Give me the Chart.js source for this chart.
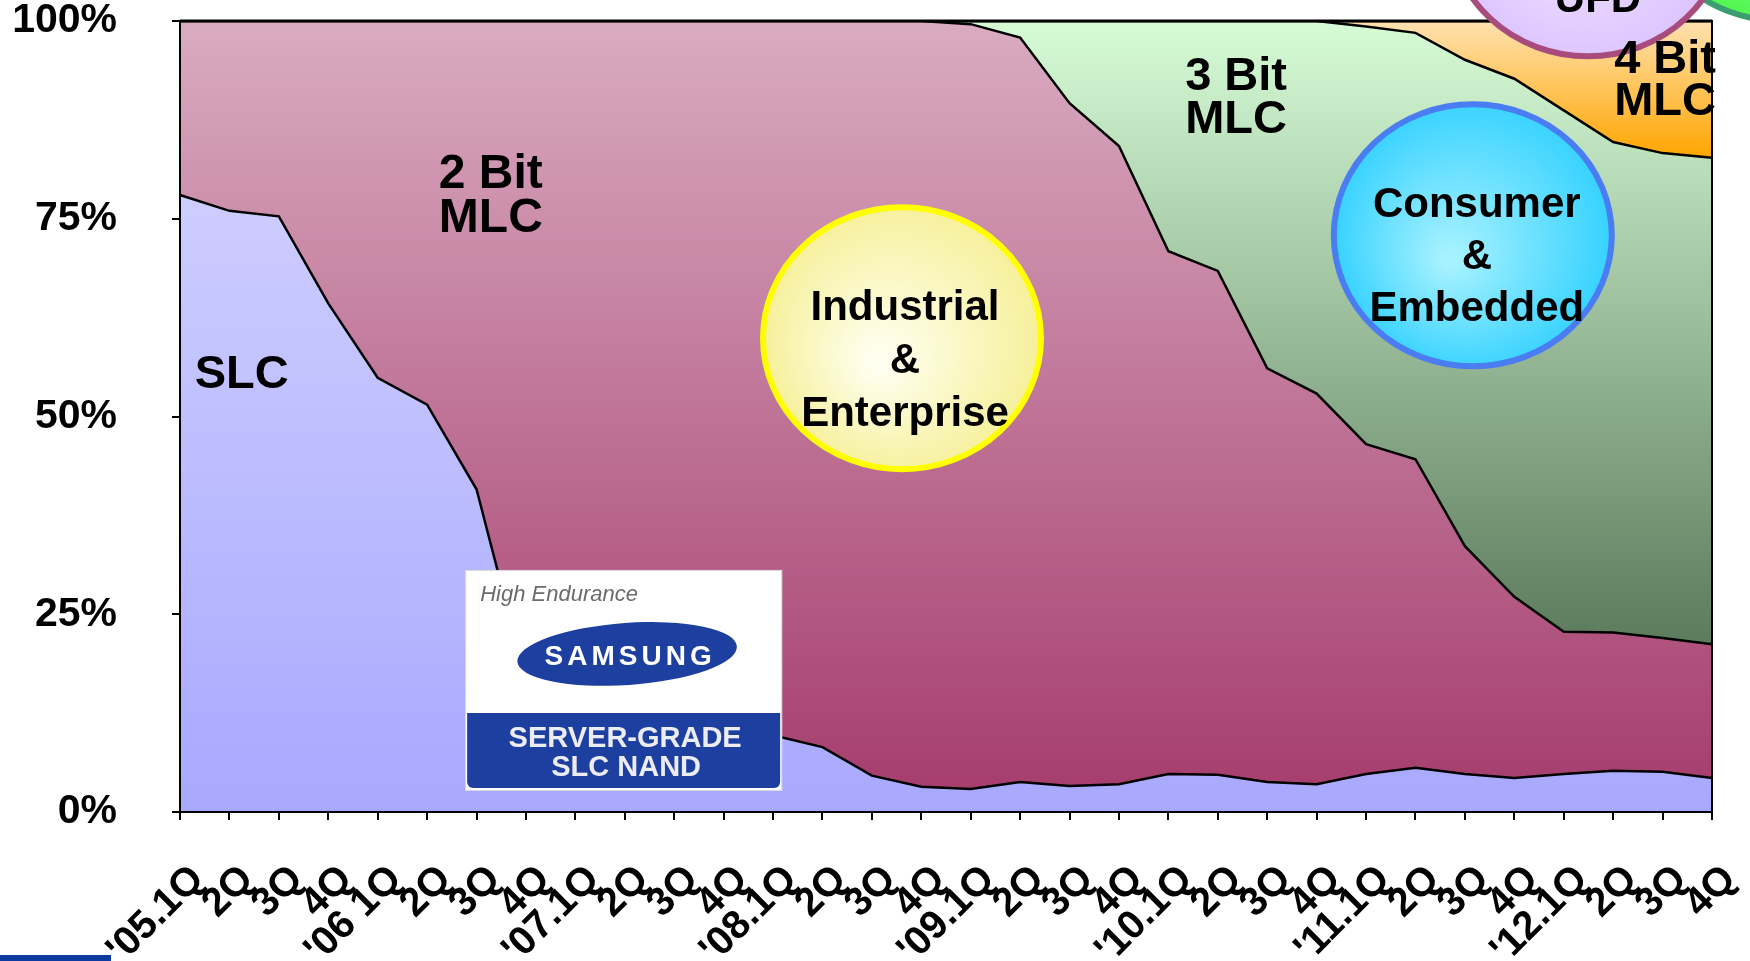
<!DOCTYPE html>
<html>
<head>
<meta charset="utf-8">
<title>NAND technology mix</title>
<script src="https://cdn.jsdelivr.net/npm/chart.js@4.4.0/dist/chart.umd.min.js"></script>
<style>
  html, body { margin: 0; padding: 0; background: #fff; }
  canvas { display: block; }
</style>
</head>
<body>
<canvas id="nandChart" width="1750" height="961"></canvas>
<script>
// categories: quarters '05 .. '12
var quarters = ["'05.1Q", "2Q", "3Q", "4Q", "'06 1Q", "2Q", "3Q", "4Q",
                "'07.1Q", "2Q", "3Q", "4Q", "'08.1Q", "2Q", "3Q", "4Q",
                "'09.1Q", "2Q", "3Q", "4Q", "'10.1Q", "2Q", "3Q", "4Q",
                "'11.1Q", "2Q", "3Q", "4Q", "'12.1Q", "2Q", "3Q", "4Q"];

// share of each cell type, %
var slc  = [78.0, 76.0, 75.3, 64.3, 54.9, 51.5, 40.8, 16.7, 13.0, 11.5, 10.7, 10.2, 9.7, 8.2, 4.6, 3.2,
            2.9, 3.8, 3.3, 3.5, 4.8, 4.7, 3.8, 3.5, 4.8, 5.6, 4.8, 4.3, 4.8, 5.2, 5.1, 4.3];
var mlc2 = [22.0, 24.0, 24.7, 35.7, 45.1, 48.5, 59.2, 83.3, 87.0, 88.5, 89.3, 89.8, 90.3, 91.8, 95.4, 96.8,
            96.7, 94.1, 86.3, 80.7, 66.1, 63.7, 52.3, 49.4, 41.7, 39.0, 28.8, 22.9, 18.0, 17.5, 16.9, 16.9];
var mlc3 = [0, 0, 0, 0, 0, 0, 0, 0, 0, 0, 0, 0, 0, 0, 0, 0,
            0.4, 2.1, 10.4, 15.8, 29.1, 31.6, 43.9, 47.1, 52.8, 53.9, 61.5, 65.5, 65.9, 62.0, 61.3, 61.5];
var mlc4 = [0, 0, 0, 0, 0, 0, 0, 0, 0, 0, 0, 0, 0, 0, 0, 0,
            0, 0, 0, 0, 0, 0, 0, 0, 0.7, 1.5, 4.9, 7.3, 11.3, 15.3, 16.7, 17.3];

var yTicks = [0, 25, 50, 75, 100];

var FONT = '"Liberation Sans", Arial, sans-serif';

// running totals so each fill gradient spans its own band
var series = [slc, mlc2, mlc3, mlc4];
var cumulative = [];
var running = quarters.map(function() { return 0; });
for (var s = 0; s < series.length; s++) {
  var low = running.slice();
  running = running.map(function(v, i) { return v + series[s][i]; });
  cumulative.push({ top: Math.max.apply(null, running), bottom: Math.min.apply(null, low) });
}

function bandFill(k, c1, c2) {
  return function(context) {
    var chart = context.chart;
    if (!chart.chartArea) return c2;
    var ys = chart.scales.y;
    var g = chart.ctx.createLinearGradient(0, ys.getPixelForValue(cumulative[k].top), 0, ys.getPixelForValue(cumulative[k].bottom));
    g.addColorStop(0, c1);
    g.addColorStop(1, c2);
    return g;
  };
}

function areaSet(label, values, k, c1, c2) {
  return {
    label: label,
    data: values,
    fill: k === 0 ? 'origin' : '-1',
    backgroundColor: bandFill(k, c1, c2),
    borderColor: '#000',
    borderWidth: 2.5,
    pointRadius: 0,
    tension: 0
  };
}

var RX = 139, RY = 131;

var decor = {
  id: 'decor',
  afterDatasetsDraw: function(chart) {
    var ctx = chart.ctx, xs = chart.scales.x, ys = chart.scales.y, a = chart.chartArea;
    function px(i) { return xs.getPixelForValue(i); }
    function py(v) { return ys.getPixelForValue(v); }

    ctx.save();
    ctx.strokeStyle = '#000';
    ctx.lineWidth = 2;
    ctx.strokeRect(a.left, a.top, a.right - a.left, a.bottom - a.top);
    ctx.beginPath();
    ctx.moveTo(a.left, a.top);
    ctx.lineTo(a.right, a.top);
    ctx.lineWidth = 3;
    ctx.stroke();

    function bubble(cx, cy, inner, outer, stroke) {
      ctx.beginPath();
      ctx.ellipse(cx, cy, RX, RY, 0, 0, Math.PI * 2);
      var g = ctx.createRadialGradient(cx - 25, cy + 25, 5, cx, cy, RX);
      g.addColorStop(0, inner);
      g.addColorStop(1, outer);
      ctx.fillStyle = g;
      ctx.fill();
      ctx.lineWidth = 6;
      ctx.strokeStyle = stroke;
      ctx.stroke();
    }

    function words(lines, cx, y0, step, size) {
      ctx.fillStyle = '#000';
      ctx.font = 'bold ' + size + 'px ' + FONT;
      ctx.textAlign = 'center';
      ctx.textBaseline = 'alphabetic';
      lines.forEach(function(t, n) { ctx.fillText(t, cx, y0 + n * step); });
    }

    // bubbles
    bubble(px(32.38), py(116.6), '#8dff8d', '#4cf54c', '#3c9e6e');
    bubble(px(28.49), py(112.1), '#efe0ff', '#dcc4ff', '#a84c7e');
    bubble(px(14.61), py(59.9), '#fffff2', '#f6f09a', '#ffff00');
    bubble(px(26.16), py(72.9), '#a8f2ff', '#36d2ff', '#4a7cf2');

    words(['UFD'], px(28.49) + 10, 12, 0, 42);
    words(['Industrial', '&', 'Enterprise'], px(14.61) + 3, 320, 53, 42);
    words(['Consumer', '&', 'Embedded'], px(26.16) + 4, 217, 52, 42);

    // area labels
    words(['SLC'], px(1.25), py(53.6), 0, 47);
    words(['2 Bit', 'MLC'], px(6.29), py(78.9), 44, 48);
    words(['3 Bit', 'MLC'], px(21.37), py(91.3), 43, 47);
    words(['4 Bit', 'MLC'], px(30.05), py(93.4), 42, 47);

    // badge
    var lx = px(5.77), ly = py(30.6), lw = 317, lh = 221;
    ctx.fillStyle = '#fff';
    ctx.fillRect(lx, ly, lw, lh);
    ctx.strokeStyle = '#d8d8d8';
    ctx.lineWidth = 1;
    ctx.strokeRect(lx + 0.5, ly + 0.5, lw - 1, lh - 1);
    ctx.fillStyle = '#6b6b6b';
    ctx.font = 'italic 22px ' + FONT;
    ctx.textAlign = 'left';
    ctx.fillText('High Endurance', lx + 15, ly + 31);
    ctx.save();
    ctx.translate(lx + 162, ly + 84);
    ctx.rotate(-0.07);
    ctx.beginPath();
    ctx.ellipse(0, 0, 110, 31, 0, 0, Math.PI * 2);
    ctx.fillStyle = '#1d3f9f';
    ctx.fill();
    ctx.restore();
    ctx.fillStyle = '#fff';
    ctx.font = 'bold 28px ' + FONT;
    ctx.textAlign = 'center';
    if ('letterSpacing' in ctx) ctx.letterSpacing = '4px';
    ctx.fillText('SAMSUNG', lx + 165, ly + 95);
    if ('letterSpacing' in ctx) ctx.letterSpacing = '0px';
    ctx.fillStyle = '#1d3f9f';
    ctx.beginPath();
    ctx.roundRect(lx + 2, ly + 143, lw - 4, 75, [0, 0, 6, 6]);
    ctx.fill();
    ctx.fillStyle = '#ececf4';
    ctx.font = 'bold 29px ' + FONT;
    ctx.fillText('SERVER-GRADE', lx + 160, ly + 177);
    ctx.fillText('SLC NAND', lx + 161, ly + 206);

    ctx.restore();
  },
  afterDraw: function(chart) {
    var ctx = chart.ctx;
    ctx.save();
    ctx.fillStyle = '#0c3a9e';
    ctx.fillRect(0, 955, 111, 6);
    ctx.restore();
  }
};

new Chart(document.getElementById('nandChart'), {
  type: 'line',
  data: {
    labels: quarters,
    datasets: [
      areaSet('SLC', slc, 0, '#cdcdff', '#a8a8ff'),
      areaSet('2 Bit MLC', mlc2, 1, '#d9abc1', '#a63e6e'),
      areaSet('3 Bit MLC', mlc3, 2, '#d6fcd6', '#5c7a5c'),
      areaSet('4 Bit MLC', mlc4, 3, '#ffe2b0', '#ffa500')
    ]
  },
  options: {
    responsive: false,
    animation: false,
    layout: { padding: { top: 0, right: 38, bottom: 0, left: 0 } },
    plugins: { legend: { display: false }, tooltip: { enabled: false } },
    scales: {
      x: {
        offset: false,
        grid: { display: true, offset: false, drawOnChartArea: false, drawTicks: true, tickLength: 8, color: '#000', lineWidth: 2 },
        border: { display: true, color: '#000', width: 2 },
        ticks: {
          autoSkip: false, maxRotation: 45, minRotation: 45,
          padding: 36, labelOffset: 18, color: '#000',
          font: { family: FONT, size: 40, weight: 'bold' }
        },
        afterFit: function(scale) {
          scale.height = 149;
          scale.paddingLeft = 0;
          scale.paddingRight = 0;
        }
      },
      y: {
        stacked: true,
        min: 0, max: 100,
        afterBuildTicks: function(scale) { scale.ticks = yTicks.map(function(v) { return { value: v }; }); },
        grid: { display: true, drawOnChartArea: false, drawTicks: true, tickLength: 8, color: '#000', lineWidth: 2 },
        border: { display: true, color: '#000', width: 2 },
        ticks: {
          padding: 55, color: '#000',
          font: { family: FONT, size: 41, weight: 'bold', lineHeight: 1 },
          callback: function(v) { return v + '%'; }
        },
        afterFit: function(scale) {
          scale.width = 180;
          scale.paddingTop = 21;
          scale.paddingBottom = 0;
        }
      }
    }
  },
  plugins: [decor]
});
</script>
</body>
</html>
